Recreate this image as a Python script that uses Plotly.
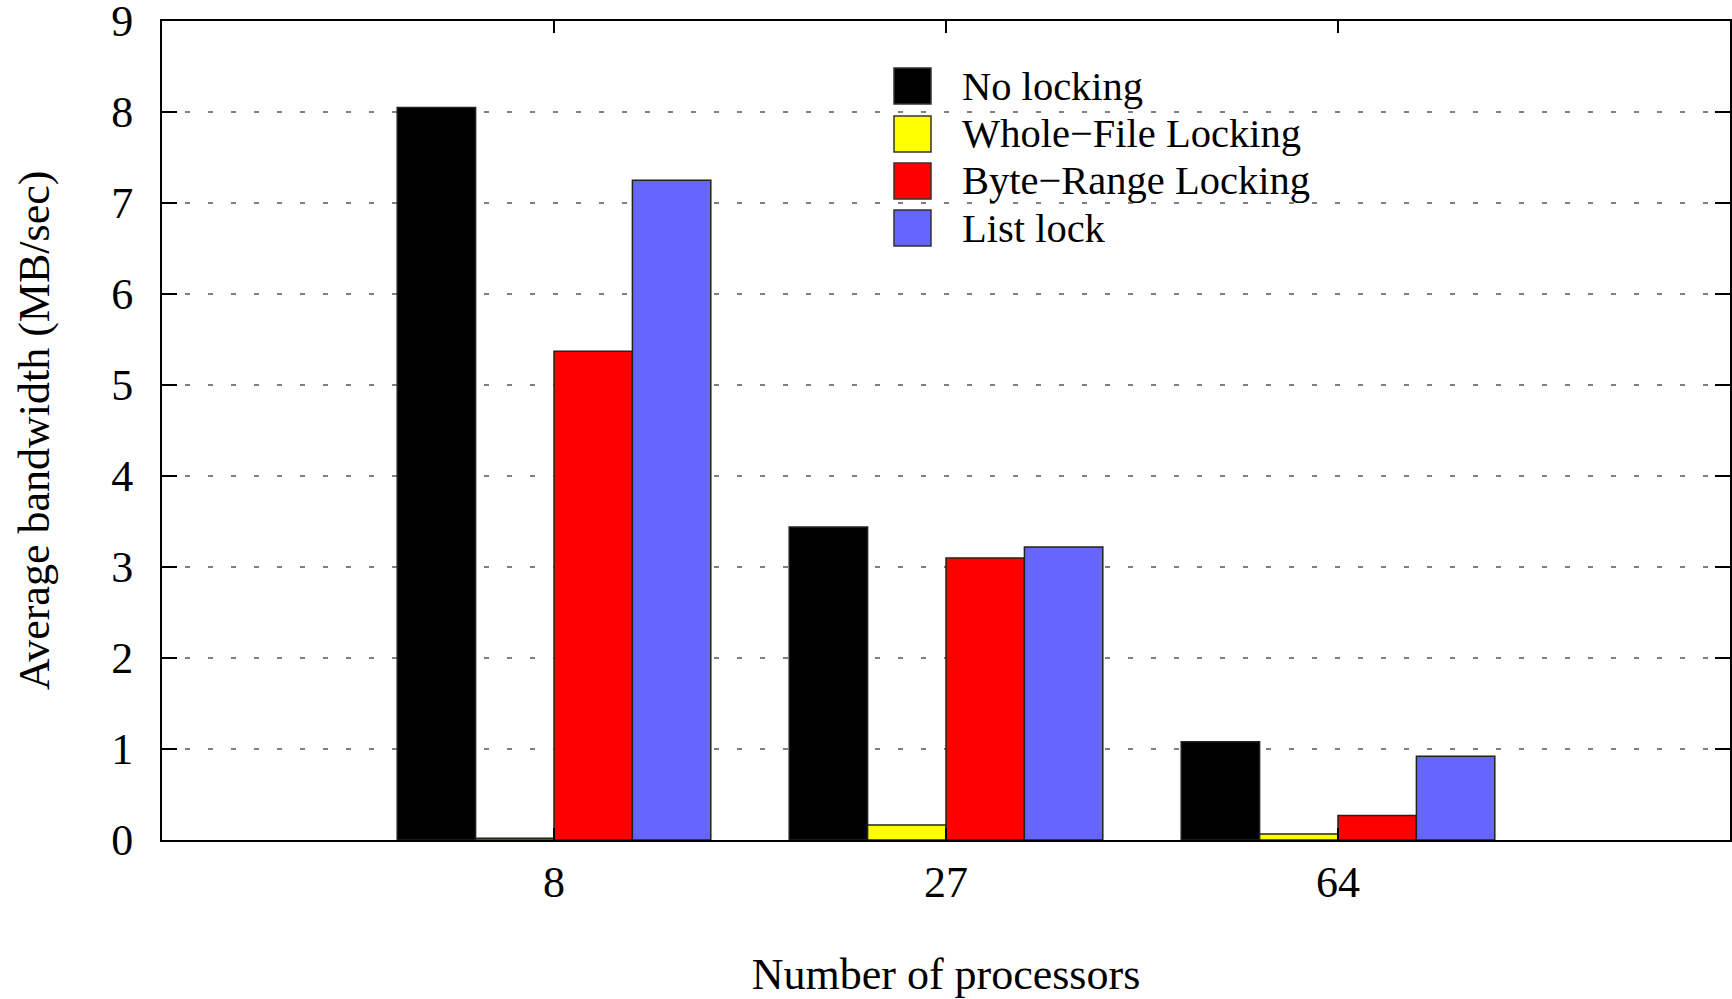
import plotly.graph_objects as go

categories = ["8", "27", "64"]
series_names = ["No locking", "Whole\u2212File Locking", "Byte\u2212Range Locking", "List lock"]
no_locking = [8.05, 3.44, 1.08]
whole_file = [0.02, 0.165, 0.065]
byte_range = [5.37, 3.10, 0.27]
list_lock = [7.25, 3.22, 0.92]
y_ticks = [0, 1, 2, 3, 4, 5, 6, 7, 8, 9]

colors = ["#000000", "#FFFF00", "#FF0000", "#6666FF"]
values = [no_locking, whole_file, byte_range, list_lock]

W, H = 1732, 999
ML, MR, MT, MB = 162, 2, 21, 159
PW, PH = W - ML - MR, H - MT - MB
FONT = "Liberation Serif"

fig = go.Figure()
for name, vals, col in zip(series_names, values, colors):
    fig.add_trace(go.Bar(
        x=categories, y=vals, name=name, showlegend=False,
        marker=dict(color=col, line=dict(color="#222222", width=1.5)),
    ))

# custom legend (large squares like the original)
def px2paper_x(px):
    return (px - ML) / PW

def px2paper_y(py):
    return (H - MB - py) / PH

row_centers = [86, 134, 181, 228]
for name, col, cy in zip(series_names, colors, row_centers):
    fig.add_shape(type="rect", xref="paper", yref="paper",
                  x0=px2paper_x(894), x1=px2paper_x(931),
                  y0=px2paper_y(cy + 18), y1=px2paper_y(cy - 18),
                  fillcolor=col, line=dict(color="#333333", width=1.5), layer="above")
    fig.add_annotation(xref="paper", yref="paper", x=px2paper_x(960), y=px2paper_y(cy),
                       text=name, showarrow=False, xanchor="left", yanchor="middle",
                       font=dict(family=FONT, size=40.5, color="black"))

fig.update_layout(
    width=W, height=H,
    margin=dict(l=ML, r=MR, t=MT, b=MB),
    paper_bgcolor="white", plot_bgcolor="white",
    barmode="group", bargap=0.2, bargroupgap=0,
    font=dict(family=FONT, size=44, color="black"),
    xaxis=dict(
        type="category", range=[-1, 3],
        showline=True, linecolor="black", linewidth=2, mirror="ticks",
        ticks="inside", ticklen=12, tickwidth=2, tickcolor="black",
        showgrid=False, tickfont=dict(size=44),
        ticklabelstandoff=2,
        title=dict(text="Number of processors", font=dict(size=44), standoff=54),
        automargin=False,
    ),
    yaxis=dict(
        range=[0, 9.0001], tickvals=y_ticks, ticktext=[str(v) for v in y_ticks],
        showline=True, linecolor="black", linewidth=2, mirror="ticks",
        ticks="inside", ticklen=15, tickwidth=2, tickcolor="black",
        showgrid=True, gridcolor="#808080", gridwidth=2, griddash="5px,18px",
        zeroline=False, tickfont=dict(size=44), ticklabeloverflow="allow",
        ticklabelstandoff=18,
        title=dict(text="Average bandwidth (MB/sec)", font=dict(size=44), standoff=48),
        automargin=False,
    ),
)

fig.write_html("out.html", config={"displayModeBar": False},
               post_script="document.body.style.margin='0';")
